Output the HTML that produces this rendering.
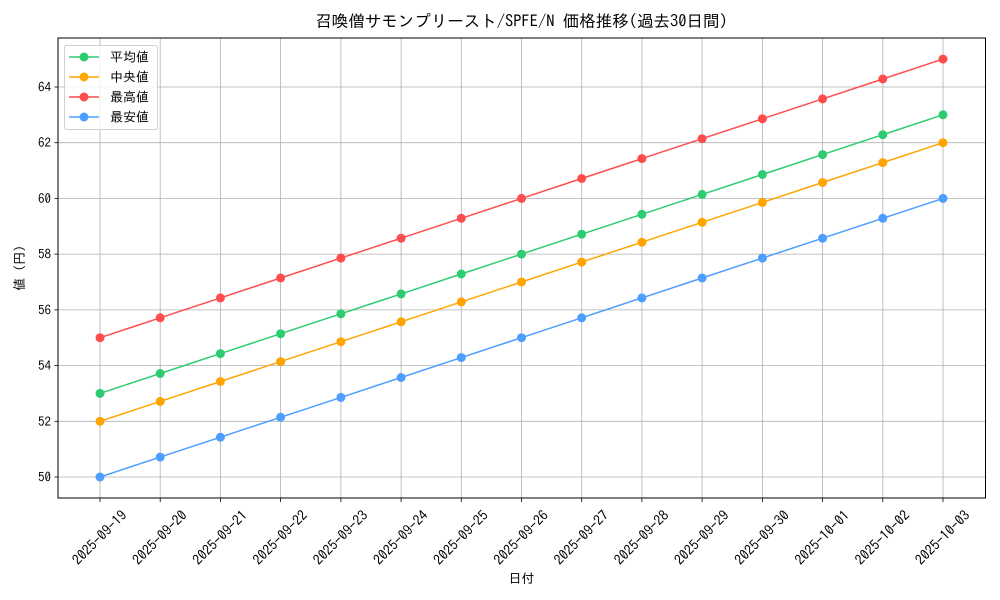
<!DOCTYPE html>
<html><head><meta charset="utf-8"><style>body{margin:0;background:#fff}svg{display:block;font-family:"IPAGothic","Noto Sans CJK JP",sans-serif}</style></head><body>
<svg width="1000" height="600" viewBox="0 0 1000 600" xmlns="http://www.w3.org/2000/svg">
<defs>
<marker id="mg" markerWidth="10" markerHeight="10" refX="5" refY="5" markerUnits="userSpaceOnUse"><circle cx="5" cy="5" r="4.5" fill="#2ecc71"/></marker>
<marker id="mo" markerWidth="10" markerHeight="10" refX="5" refY="5" markerUnits="userSpaceOnUse"><circle cx="5" cy="5" r="4.5" fill="#ffa500"/></marker>
<marker id="mr" markerWidth="10" markerHeight="10" refX="5" refY="5" markerUnits="userSpaceOnUse"><circle cx="5" cy="5" r="4.5" fill="#ff4d4d"/></marker>
<marker id="mb" markerWidth="10" markerHeight="10" refX="5" refY="5" markerUnits="userSpaceOnUse"><circle cx="5" cy="5" r="4.5" fill="#4d9eff"/></marker>
<polyline id="pl" points="100,477 160.2,457.1 220.4,437.2 280.6,417.3 340.9,397.4 401.1,377.5 461.3,357.6 521.5,337.7 581.7,317.8 641.9,297.9 702.1,278 762.4,258.1 822.6,238.2 882.8,218.3 943,198.4" fill="none" stroke-width="1.5"/>
</defs>
<text x="521.5" y="27" font-size="16.5" text-anchor="middle">召喚僧サモンプリースト/SPFE/N 価格推移(過去30日間)</text>
<g stroke="#b0b0b0" stroke-width="0.8">
<line x1="100" y1="38" x2="100" y2="498"/><line x1="160.2" y1="38" x2="160.2" y2="498"/><line x1="220.4" y1="38" x2="220.4" y2="498"/><line x1="280.6" y1="38" x2="280.6" y2="498"/><line x1="340.9" y1="38" x2="340.9" y2="498"/><line x1="401.1" y1="38" x2="401.1" y2="498"/><line x1="461.3" y1="38" x2="461.3" y2="498"/><line x1="521.5" y1="38" x2="521.5" y2="498"/><line x1="581.7" y1="38" x2="581.7" y2="498"/><line x1="641.9" y1="38" x2="641.9" y2="498"/><line x1="702.1" y1="38" x2="702.1" y2="498"/><line x1="762.4" y1="38" x2="762.4" y2="498"/><line x1="822.6" y1="38" x2="822.6" y2="498"/><line x1="882.8" y1="38" x2="882.8" y2="498"/><line x1="943" y1="38" x2="943" y2="498"/>
<line x1="58" y1="477" x2="985.5" y2="477"/><line x1="58" y1="421.3" x2="985.5" y2="421.3"/><line x1="58" y1="365.6" x2="985.5" y2="365.6"/><line x1="58" y1="309.9" x2="985.5" y2="309.9"/><line x1="58" y1="254.1" x2="985.5" y2="254.1"/><line x1="58" y1="198.4" x2="985.5" y2="198.4"/><line x1="58" y1="142.7" x2="985.5" y2="142.7"/><line x1="58" y1="87" x2="985.5" y2="87"/>
</g>
<rect x="58" y="38" width="927.5" height="460" fill="none" stroke="#000" stroke-width="1"/>
<g stroke="#000" stroke-width="0.8">
<line x1="54.5" y1="477" x2="58" y2="477"/><line x1="54.5" y1="421.3" x2="58" y2="421.3"/><line x1="54.5" y1="365.6" x2="58" y2="365.6"/><line x1="54.5" y1="309.9" x2="58" y2="309.9"/><line x1="54.5" y1="254.1" x2="58" y2="254.1"/><line x1="54.5" y1="198.4" x2="58" y2="198.4"/><line x1="54.5" y1="142.7" x2="58" y2="142.7"/><line x1="54.5" y1="87" x2="58" y2="87"/>
<line x1="100" y1="498" x2="100" y2="502"/><line x1="160.2" y1="498" x2="160.2" y2="502"/><line x1="220.4" y1="498" x2="220.4" y2="502"/><line x1="280.6" y1="498" x2="280.6" y2="502"/><line x1="340.9" y1="498" x2="340.9" y2="502"/><line x1="401.1" y1="498" x2="401.1" y2="502"/><line x1="461.3" y1="498" x2="461.3" y2="502"/><line x1="521.5" y1="498" x2="521.5" y2="502"/><line x1="581.7" y1="498" x2="581.7" y2="502"/><line x1="641.9" y1="498" x2="641.9" y2="502"/><line x1="702.1" y1="498" x2="702.1" y2="502"/><line x1="762.4" y1="498" x2="762.4" y2="502"/><line x1="822.6" y1="498" x2="822.6" y2="502"/><line x1="882.8" y1="498" x2="882.8" y2="502"/><line x1="943" y1="498" x2="943" y2="502"/>
</g>
<g font-size="13" text-anchor="end">
<text x="51" y="481.5">50</text><text x="51" y="425.8">52</text><text x="51" y="370.1">54</text><text x="51" y="314.4">56</text><text x="51" y="258.6">58</text><text x="51" y="202.9">60</text><text x="51" y="147.2">62</text><text x="51" y="91.5">64</text>
</g>
<g font-size="14" text-anchor="middle">
<text transform="translate(103,541) rotate(-45)">2025-09-19</text>
<text transform="translate(163.2,541) rotate(-45)">2025-09-20</text>
<text transform="translate(223.4,541) rotate(-45)">2025-09-21</text>
<text transform="translate(283.6,541) rotate(-45)">2025-09-22</text>
<text transform="translate(343.9,541) rotate(-45)">2025-09-23</text>
<text transform="translate(404.1,541) rotate(-45)">2025-09-24</text>
<text transform="translate(464.3,541) rotate(-45)">2025-09-25</text>
<text transform="translate(524.5,541) rotate(-45)">2025-09-26</text>
<text transform="translate(584.7,541) rotate(-45)">2025-09-27</text>
<text transform="translate(644.9,541) rotate(-45)">2025-09-28</text>
<text transform="translate(705.1,541) rotate(-45)">2025-09-29</text>
<text transform="translate(765.4,541) rotate(-45)">2025-09-30</text>
<text transform="translate(825.6,541) rotate(-45)">2025-10-01</text>
<text transform="translate(885.8,541) rotate(-45)">2025-10-02</text>
<text transform="translate(946,541) rotate(-45)">2025-10-03</text>
</g>
<text x="521.5" y="583" font-size="13" text-anchor="middle">日付</text>
<text transform="translate(24,268) rotate(-90)" font-size="13" text-anchor="middle">値 (円)</text>
<use href="#pl" stroke="#ff4d4d" transform="translate(0,-139.3)" marker-start="url(#mr)" marker-mid="url(#mr)" marker-end="url(#mr)"/>
<use href="#pl" stroke="#2ecc71" transform="translate(0,-83.6)" marker-start="url(#mg)" marker-mid="url(#mg)" marker-end="url(#mg)"/>
<use href="#pl" stroke="#ffa500" transform="translate(0,-55.7)" marker-start="url(#mo)" marker-mid="url(#mo)" marker-end="url(#mo)"/>
<use href="#pl" stroke="#4d9eff" marker-start="url(#mb)" marker-mid="url(#mb)" marker-end="url(#mb)"/>
<rect x="64.5" y="45.5" width="93" height="84" rx="2" fill="#fff" fill-opacity="0.8" stroke="#d0d0d0"/>
<g stroke-width="1.5">
<line x1="69" y1="57" x2="99" y2="57" stroke="#2ecc71"/><circle cx="84" cy="57" r="4.5" fill="#2ecc71"/>
<line x1="69" y1="77" x2="99" y2="77" stroke="#ffa500"/><circle cx="84" cy="77" r="4.5" fill="#ffa500"/>
<line x1="69" y1="97" x2="99" y2="97" stroke="#ff4d4d"/><circle cx="84" cy="97" r="4.5" fill="#ff4d4d"/>
<line x1="69" y1="117" x2="99" y2="117" stroke="#4d9eff"/><circle cx="84" cy="117" r="4.5" fill="#4d9eff"/>
</g>
<g font-size="13">
<text x="110" y="61.5">平均値</text><text x="110" y="81.5">中央値</text><text x="110" y="101.5">最高値</text><text x="110" y="121.5">最安値</text>
</g>
</svg>
</body></html>
